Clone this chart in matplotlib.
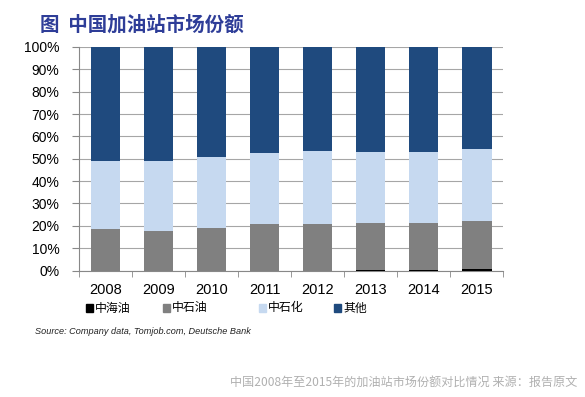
import matplotlib
matplotlib.use("Agg")
import matplotlib.pyplot as plt
from matplotlib.patches import Rectangle
import numpy as np

plt.rcParams['font.family'] = ['Liberation Sans', 'Noto Sans CJK SC', 'DejaVu Sans']

years = ['2008', '2009', '2010', '2011', '2012', '2013', '2014', '2015']
series_names = ['中海油', '中石油', '中石化', '其他']
cnooc = [0.0, 0.0, 0.0, 0.0, 0.0, 0.2, 0.4, 0.8]
cnpc = [18.6, 17.8, 19.2, 20.7, 21.0, 21.1, 20.9, 21.5]
sinopec = [30.5, 31.0, 31.6, 31.9, 32.3, 31.7, 31.5, 31.9]
others = [100 - a - b - c for a, b, c in zip(cnooc, cnpc, sinopec)]
colors = ['#000000', '#808080', '#C6D9F0', '#1F4A7E']

fig = plt.figure(figsize=(5.85, 3.97), dpi=100)
ax = fig.add_axes([79/585, 1 - 270.5/397, (503.5-79)/585, (270.5-47)/397])

x = np.arange(len(years))
bottom = np.zeros(len(years))
for vals, col, name in zip([cnooc, cnpc, sinopec, others], colors, series_names):
    ax.bar(x, vals, width=0.55, bottom=bottom, color=col, label=name, zorder=3, linewidth=0)
    bottom += np.array(vals)

ax.set_xlim(-0.5, len(years) - 0.5)
ax.set_ylim(0, 100)
ax.set_yticks(np.arange(0, 101, 10))
ax.set_yticklabels([f'{v}%' for v in range(0, 101, 10)], fontsize=10)
ax.set_xticks(x)
ax.set_xticklabels(years, fontsize=10.5)
ax.set_xticks(np.arange(-0.5, len(years), 1), minor=True)
ax.tick_params(axis='x', which='major', length=0, pad=9)
ax.tick_params(axis='x', which='minor', length=4, color='#888888', direction='out')
ax.tick_params(axis='y', length=5, color='#888888', direction='out', pad=9)
ax.yaxis.grid(True, color='#A6A6A6', linewidth=0.8, zorder=0)
for s in ['top', 'right']:
    ax.spines[s].set_visible(False)
for s in ['left', 'bottom']:
    ax.spines[s].set_color('#888888')
    ax.spines[s].set_linewidth(0.8)

fig.text(40/585, 1 - 25/397, '图  中国加油站市场份额', fontsize=14, fontweight='bold',
         color='#2E3D98', family=['Noto Sans CJK SC', 'DejaVu Sans'], va='center', ha='left')

# legend
leg_x = [86, 163, 259, 334]
for lx, col, name in zip(leg_x, colors, series_names):
    fig.patches.append(Rectangle((lx/585, 1 - 312/397), 7/585, 8/397,
                                 transform=fig.transFigure, color=col))
    fig.text((lx + 9)/585, 1 - 308/397, name, fontsize=8.6,
             family=['Noto Sans CJK SC', 'DejaVu Sans'], va='center', ha='left')

fig.text(35/585, 1 - 331/397, 'Source: Company data, Tomjob.com, Deutsche Bank',
         fontsize=6.6, style='italic', color='#222222', va='center', ha='left')

fig.text(577/585, 1 - 382/397, '中国2008年至2015年的加油站市场份额对比情况 来源：报告原文',
         fontsize=8.7, color='#B0B0B0', family=['Noto Sans CJK SC', 'DejaVu Sans'],
         va='center', ha='right')

fig.savefig('out.png', dpi=100)
